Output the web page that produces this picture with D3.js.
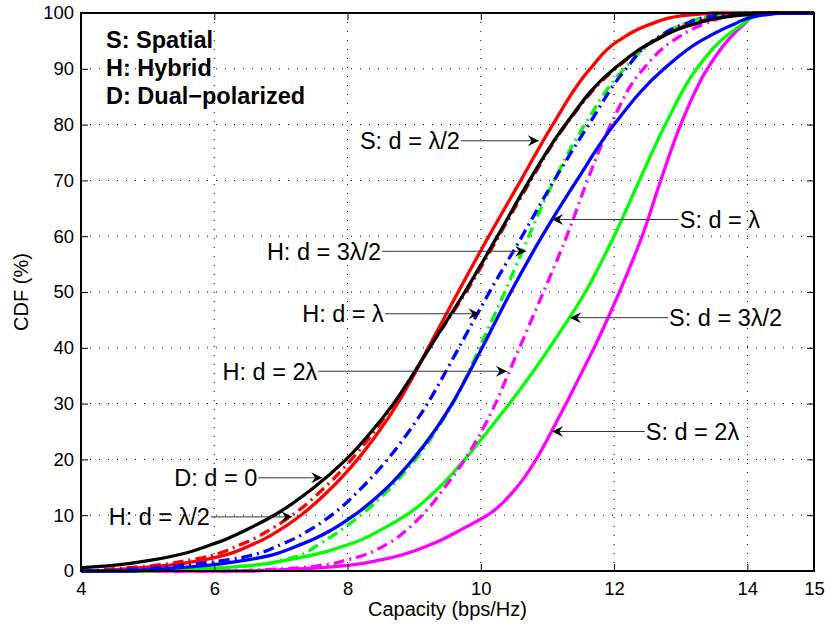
<!DOCTYPE html>
<html>
<head>
<meta charset="utf-8">
<script src="https://cdn.jsdelivr.net/npm/d3@7"></script>
<style>
  html, body { margin: 0; padding: 0; background: #fff; }
  svg text { font-family: "Liberation Sans", Arial, Helvetica, sans-serif; fill: #000; }
</style>
</head>
<body>
<svg id="chart" width="829" height="631"></svg>
<script>
// CDF levels (%) shared by every curve
const cdfLevels = [0, 0.5, 1, 2, 5, 7.5, 10, 15, 20, 25, 30, 35, 40, 50, 60, 70, 80, 90, 95, 98, 99.5, 100];

// capacity (bps/Hz) reached at each CDF level
const spatialHalf      = [4.3, 4.8, 5.3, 5.84, 6.62, 7.0, 7.3, 7.77, 8.15, 8.47, 8.75, 8.99, 9.21, 9.66, 10.12, 10.6, 11.08, 11.64, 12.06, 12.55, 13.0, 13.5];
const spatialOne       = [4.8, 5.4, 5.9, 6.5, 7.35, 7.78, 8.1, 8.6, 8.98, 9.3, 9.57, 9.8, 10.02, 10.45, 10.92, 11.44, 12.0, 12.75, 13.3, 13.8, 14.15, 14.5];
const spatialThreeHalf = [5.0, 6.0, 6.55, 7.1, 8.08, 8.52, 8.88, 9.38, 9.76, 10.1, 10.43, 10.74, 11.03, 11.57, 12.0, 12.38, 12.77, 13.24, 13.6, 13.93, 14.15, 14.4];
const spatialTwo       = [6.6, 7.5, 8.0, 8.5, 9.3, 9.72, 10.1, 10.54, 10.83, 11.06, 11.28, 11.49, 11.7, 12.08, 12.42, 12.7, 13.0, 13.4, 13.7, 13.95, 14.12, 14.3];
const hybridHalf       = [4.1, 4.6, 5.1, 5.65, 6.45, 6.85, 7.17, 7.66, 8.06, 8.4, 8.7, 8.97, 9.23, 9.78, 10.27, 10.75, 11.28, 12.02, 12.6, 13.15, 13.7, 14.1];
const hybridOne        = [4.3, 5.0, 5.5, 6.2, 7.05, 7.45, 7.76, 8.22, 8.6, 8.92, 9.2, 9.44, 9.67, 10.13, 10.62, 11.1, 11.62, 12.18, 12.58, 13.05, 13.5, 14.0];
const hybridThreeHalf  = [5.0, 6.1, 6.6, 7.05, 7.6, 7.92, 8.2, 8.65, 9.02, 9.32, 9.58, 9.79, 9.98, 10.36, 10.72, 11.1, 11.56, 12.15, 12.6, 13.05, 13.5, 13.9];
const hybridTwo        = [6.3, 7.2, 7.6, 8.0, 8.62, 8.9, 9.12, 9.46, 9.76, 10.01, 10.22, 10.4, 10.58, 10.94, 11.29, 11.6, 11.95, 12.44, 12.88, 13.35, 13.75, 14.0];
const dualZero         = [3.5, 3.95, 4.48, 5.08, 6.02, 6.5, 6.9, 7.5, 7.98, 8.36, 8.69, 8.97, 9.23, 9.76, 10.25, 10.73, 11.27, 12.0, 12.6, 13.2, 13.8, 14.3];

const xTicks = [4, 6, 8, 10, 12, 14, 15];
const yTicks = [0, 10, 20, 30, 40, 50, 60, 70, 80, 90, 100];
const legendLines = ["S: Spatial", "H: Hybrid", "D: Dual\u2212polarized"];

// series drawn in this order (later ones on top)
const series = [
  { values: spatialTwo,       color: "#ff00ff", dash: null },
  { values: spatialThreeHalf, color: "#00ff00", dash: null },
  { values: hybridTwo,        color: "#ff00ff", dash: "dashdot" },
  { values: hybridThreeHalf,  color: "#00ff00", dash: "dashdot" },
  { values: spatialHalf,      color: "#ff0000", dash: null },
  { values: hybridHalf,       color: "#ff0000", dash: "dashdot" },
  { values: hybridOne,        color: "#0000ff", dash: "dashdot" },
  { values: dualZero,         color: "#000000", dash: null },
  { values: spatialOne,       color: "#0000ff", dash: null }
];

// annotation labels with arrows: text edge (tx, ty) and arrow tip (hx, hy), in data units
const annotations = [
  { label: "S: d = \u03bb/2",  tx: 9.70,  ty: 77.1, hx: 10.87, hy: 77.1, side: "left" },
  { label: "H: d = 3\u03bb/2", tx: 8.52,  ty: 57.3, hx: 10.68, hy: 57.3, side: "left" },
  { label: "H: d = \u03bb",    tx: 8.56,  ty: 46.1, hx: 9.98,  hy: 46.1, side: "left" },
  { label: "H: d = 2\u03bb",   tx: 7.56,  ty: 35.8, hx: 10.39, hy: 35.8, side: "left" },
  { label: "D: d = 0",         tx: 6.66,  ty: 16.7, hx: 7.62,  hy: 16.7, side: "left" },
  { label: "H: d = \u03bb/2",  tx: 5.95,  ty: 9.7,  hx: 7.17,  hy: 9.7,  side: "left" },
  { label: "S: d = \u03bb",    tx: 12.97, ty: 63.0, hx: 11.07, hy: 63.0, side: "right" },
  { label: "S: d = 3\u03bb/2", tx: 12.81, ty: 45.4, hx: 11.34, hy: 45.4, side: "right" },
  { label: "S: d = 2\u03bb",   tx: 12.46, ty: 25.0, hx: 11.07, hy: 25.0, side: "right" }
];

const svg = d3.select("#chart");
const plotLeft = 81, plotRight = 814, plotTop = 13, plotBottom = 571;
const x = d3.scaleLinear().domain([4, 15]).range([plotLeft, plotRight]);
const y = d3.scaleLinear().domain([0, 100]).range([plotBottom, plotTop]);

// dotted grid
const grid = svg.append("g");
grid.selectAll("line.gx").data(xTicks.filter(t => t > 4 && t < 15)).join("line")
  .attr("x1", d => x(d)).attr("x2", d => x(d)).attr("y1", plotTop).attr("y2", plotBottom)
  .attr("stroke", "#000").attr("stroke-width", 1).attr("stroke-dasharray", "1,8");
grid.selectAll("line.gy").data(yTicks.filter(t => t > 0 && t < 100)).join("line")
  .attr("x1", plotLeft).attr("x2", plotRight).attr("y1", d => y(d)).attr("y2", d => y(d))
  .attr("stroke", "#000").attr("stroke-width", 1).attr("stroke-dasharray", "1,8");

// each CDF: flat at 0 from the left edge, a smooth curve through the levels, flat at 100 to the right edge
const curve = d3.line().x(d => x(d[0])).y(d => y(d[1])).curve(d3.curveMonotoneY);
function cdfPath(values) {
  const pts = values.map((v, i) => [v, cdfLevels[i]]);
  let d = curve(pts);
  if (values[0] > 4) d = `M${x(4)},${y(0)}L` + d.slice(1);
  return d + `L${x(15)},${y(100)}`;
}

svg.append("clipPath").attr("id", "plotClip").append("rect")
  .attr("x", plotLeft).attr("y", plotTop - 2).attr("width", plotRight - plotLeft + 2).attr("height", plotBottom - plotTop + 4);
svg.append("g").attr("clip-path", "url(#plotClip)")
  .selectAll("path").data(series).join("path")
  .attr("d", d => cdfPath(d.values))
  .attr("fill", "none")
  .attr("stroke", d => d.color)
  .attr("stroke-width", 3.3)
  .attr("stroke-linejoin", "round")
  .attr("stroke-dasharray", d => d.dash === "dashdot" ? "11,5,2,5" : null);

// axes with inward ticks on all four sides
const tickLen = 7;
const axisBottom = d3.axisBottom(x).tickValues(xTicks).tickSize(-tickLen).tickPadding(11).tickFormat(d3.format("d"));
const axisLeft = d3.axisLeft(y).tickValues(yTicks).tickSize(-tickLen).tickPadding(7).tickFormat(d3.format("d"));
const axisTop = d3.axisTop(x).tickValues(xTicks).tickSize(-tickLen).tickFormat("");
const axisRight = d3.axisRight(y).tickValues(yTicks).tickSize(-tickLen).tickFormat("");

function styleAxis(g) {
  g.select(".domain").remove();
  g.selectAll(".tick line").attr("stroke", "#000").attr("stroke-width", 1);
  g.selectAll(".tick text").attr("font-size", 18.5).attr("fill", "#000")
    .style("font-family", '"Liberation Sans", Arial, Helvetica, sans-serif');
}
svg.append("g").attr("transform", `translate(0,${plotBottom})`).call(axisBottom).call(styleAxis);
svg.append("g").attr("transform", `translate(${plotLeft},0)`).call(axisLeft).call(styleAxis);
svg.append("g").attr("transform", `translate(0,${plotTop})`).call(axisTop).call(styleAxis);
svg.append("g").attr("transform", `translate(${plotRight},0)`).call(axisRight).call(styleAxis);

// frame
svg.append("rect").attr("x", plotLeft).attr("y", plotTop).attr("width", plotRight - plotLeft).attr("height", plotBottom - plotTop)
  .attr("fill", "none").attr("stroke", "#000").attr("stroke-width", 2);

// axis titles
svg.append("text").attr("x", (plotLeft + plotRight) / 2).attr("y", 616).attr("text-anchor", "middle")
  .attr("font-size", 20).text("Capacity (bps/Hz)");
svg.append("text").attr("transform", `translate(28,${(plotTop + plotBottom) / 2}) rotate(-90)`)
  .attr("text-anchor", "middle").attr("font-size", 20).text("CDF (%)");

// legend text
svg.append("g").selectAll("text").data(legendLines).join("text")
  .attr("x", 106).attr("y", (d, i) => 48 + i * 28)
  .attr("font-size", 23.5).attr("font-weight", "bold").text(d => d);

// annotations
const ann = svg.append("g");
annotations.forEach(a => {
  const tx = x(a.tx), ty = y(a.ty), hx = x(a.hx), hy = y(a.hy);
  ann.append("text").attr("x", a.side === "left" ? tx - 1 : tx + 1).attr("y", ty + 8.5)
    .attr("text-anchor", a.side === "left" ? "end" : "start")
    .attr("font-size", 23.5).text(a.label);
  ann.append("line").attr("x1", tx).attr("y1", ty).attr("x2", hx).attr("y2", hy)
    .attr("stroke", "#333").attr("stroke-width", 1);
  const dir = a.side === "left" ? 1 : -1;
  const L = 11, W = 5.5, N = 7;
  const p = [[hx, hy], [hx - dir * L, hy - W], [hx - dir * N, hy], [hx - dir * L, hy + W]];
  ann.append("path").attr("d", "M" + p.map(q => q.join(",")).join("L") + "Z").attr("fill", "#000");
});
</script>
</body>
</html>
